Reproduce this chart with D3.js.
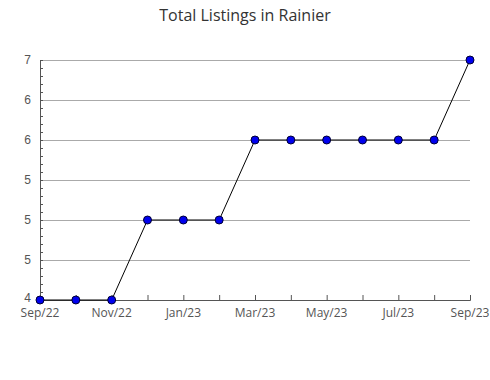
<!DOCTYPE html>
<html>
<head>
<meta charset="utf-8">
<script src="https://cdn.jsdelivr.net/npm/d3@7"></script>
<style>
  body { margin: 0; background: #fff; }
  svg { font-family: "Open Sans", "Noto Sans", sans-serif; }
  .tick-label { fill: #555; font-size: 12px; }
</style>
</head>
<body>
<svg id="chart"></svg>
<script>
const WIDTH = 490;
const HEIGHT = 380;

// months along the x axis, one point per month
const months = ['Sep/22', 'Oct/22', 'Nov/22', 'Dec/22', 'Jan/23', 'Feb/23', 'Mar/23',
    'Apr/23', 'May/23', 'Jun/23', 'Jul/23', 'Aug/23', 'Sep/23'];
const listings = [4, 4, 4, 5, 5, 5, 6, 6, 6, 6, 6, 6, 7];

// y gridlines and the (rounded) labels printed beside them
const yTicks = [4, 4.5, 5, 5.5, 6, 6.5, 7];
const yTickLabels = ['4', '5', '5', '5', '6', '6', '7'];

const margin = { top: 60, right: 20, bottom: 80, left: 40 };

function makeChart() {
    let svg = d3.select('#chart')
        .attr('width', WIDTH)
        .attr('height', HEIGHT);

    svg.append('text')
        .attr('x', WIDTH / 2)
        .attr('y', 21)
        .attr('text-anchor', 'middle')
        .style('font-size', '16px')
        .style('fill', '#333')
        .text('Total Listings in Rainier');

    let x = d3.scalePoint()
        .domain(months)
        .range([margin.left, WIDTH - margin.right]);
    let y = d3.scaleLinear()
        .domain([4, 7])
        .range([HEIGHT - margin.bottom, margin.top]);

    // gridlines
    svg.append('g')
        .selectAll('line')
        .data(yTicks)
        .enter().append('line')
        .attr('x1', margin.left)
        .attr('x2', WIDTH - margin.right)
        .attr('y1', d => y(d))
        .attr('y2', d => y(d))
        .attr('stroke', '#aaa')
        .attr('stroke-width', 1)
        .attr('shape-rendering', 'crispEdges');

    // minor ticks on left axis
    let minor = d3.range(40, 71).map(d => d / 10);
    svg.append('g')
        .attr('transform', `translate(${margin.left},0)`)
        .call(d3.axisRight(y).tickValues(minor).tickSize(3).tickFormat(''))
        .call(g => g.select('.domain').remove())
        .call(g => g.selectAll('line').attr('stroke', '#555'));

    // left axis
    svg.append('g')
        .attr('transform', `translate(${margin.left},0)`)
        .call(d3.axisLeft(y).tickValues(yTicks).tickSize(0).tickPadding(9)
            .tickFormat((d, i) => yTickLabels[i]))
        .call(g => g.select('.domain').attr('stroke', '#555'))
        .call(g => g.selectAll('text').attr('class', 'tick-label')
            .attr('font-family', null).attr('font-size', null)
            .attr('dy', (d, i) => i == 0 ? '0.1em' : '0.32em'));

    // bottom axis
    let labelled = months.filter((d, i) => i % 2 == 0);
    svg.append('g')
        .attr('transform', `translate(0,${HEIGHT - margin.bottom})`)
        .call(d3.axisTop(x).tickSize(5).tickFormat(''))
        .call(g => g.select('.domain').attr('stroke', '#555'))
        .call(g => g.selectAll('line').attr('stroke', '#555'));

    svg.append('g')
        .selectAll('text')
        .data(labelled)
        .enter().append('text')
        .attr('class', 'tick-label')
        .attr('x', d => x(d))
        .attr('y', HEIGHT - margin.bottom + 17)
        .attr('text-anchor', 'middle')
        .text(d => d);

    let line = d3.line()
        .x((d, i) => x(months[i]))
        .y(d => y(d));

    svg.append('path')
        .datum(listings)
        .attr('d', line)
        .attr('fill', 'none')
        .attr('stroke', '#000')
        .attr('stroke-width', 1);

    svg.append('g')
        .selectAll('circle')
        .data(listings)
        .enter().append('circle')
        .attr('cx', (d, i) => x(months[i]))
        .attr('cy', d => y(d))
        .attr('r', 4)
        .attr('fill', '#0000ee')
        .attr('stroke', '#000033')
        .attr('stroke-width', 1);
}

makeChart();
</script>
</body>
</html>
